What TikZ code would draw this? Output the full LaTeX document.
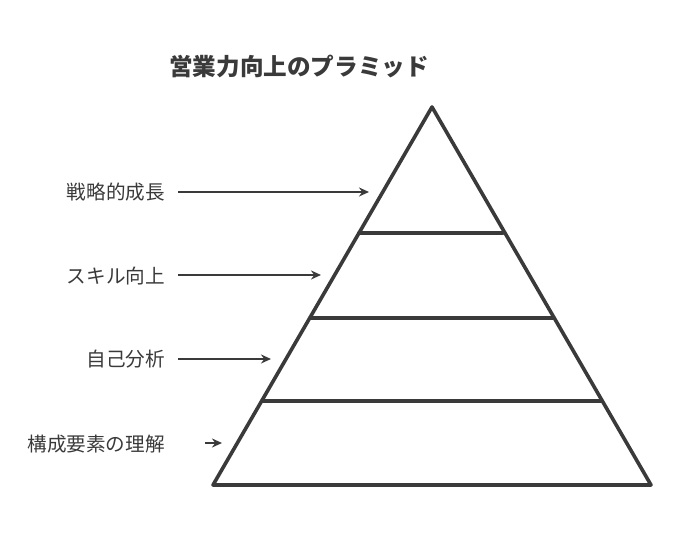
\documentclass[tikz,border=0pt]{standalone}
\usepackage{fontspec}
\setmainfont{Noto Sans CJK JP}
\usetikzlibrary{arrows.meta}
\definecolor{ink}{HTML}{3A3A3A}
\begin{document}
\begin{tikzpicture}[x=1pt,y=-1pt,
  lbl/.style={anchor=east,inner sep=0pt,text=ink,font=\fontsize{19.6}{21}\selectfont},
  ttl/.style={inner sep=0pt,text=ink,font=\bfseries\fontsize{23.6}{25}\selectfont},
  pyr/.style={draw=ink,line width=3.6pt,line join=round,line cap=round},
  tier/.style={draw=ink,line width=3.6pt,line cap=round},
  arr/.style={draw=ink,line width=2pt,-{Stealth[length=10pt,width=9pt]}}]
\useasboundingbox (0,0) rectangle (675,534);
% title
\node[ttl] (title) at (299,67) {営業力向上のプラミッド};
% pyramid
\coordinate (apex) at (432,107);
\coordinate (bl) at (213,485);
\coordinate (br) at (651,485);
\draw[pyr] (apex) -- (br) -- (bl) -- cycle;
\coordinate (t1l) at (359,233); \coordinate (t1r) at (503,233);
\coordinate (t2l) at (310,318); \coordinate (t2r) at (553,318);
\coordinate (t3l) at (262,401); \coordinate (t3r) at (601,401);
\draw[tier] (t1l) -- (t1r);
\draw[tier] (t2l) -- (t2r);
\draw[tier] (t3l) -- (t3r);
% labels
\node[lbl] (l1) at (165,192) {戦略的成長};
\node[lbl] (l2) at (165,276) {スキル向上};
\node[lbl] (l3) at (165,359) {自己分析};
\node[lbl] (l4) at (165,444) {構成要素の理解};
\coordinate (e1) at (369,192);
\coordinate (e2) at (321,275);
\coordinate (e3) at (271,359);
\coordinate (e4) at (222,443);
\draw[arr] ([xshift=13pt]l1.east |- e1) -- (e1);
\draw[arr] ([xshift=13pt]l2.east |- e2) -- (e2);
\draw[arr] ([xshift=13pt]l3.east |- e3) -- (e3);
\draw[arr] ([xshift=40pt]l4.east |- e4) -- (e4);
\end{tikzpicture}
\end{document}
